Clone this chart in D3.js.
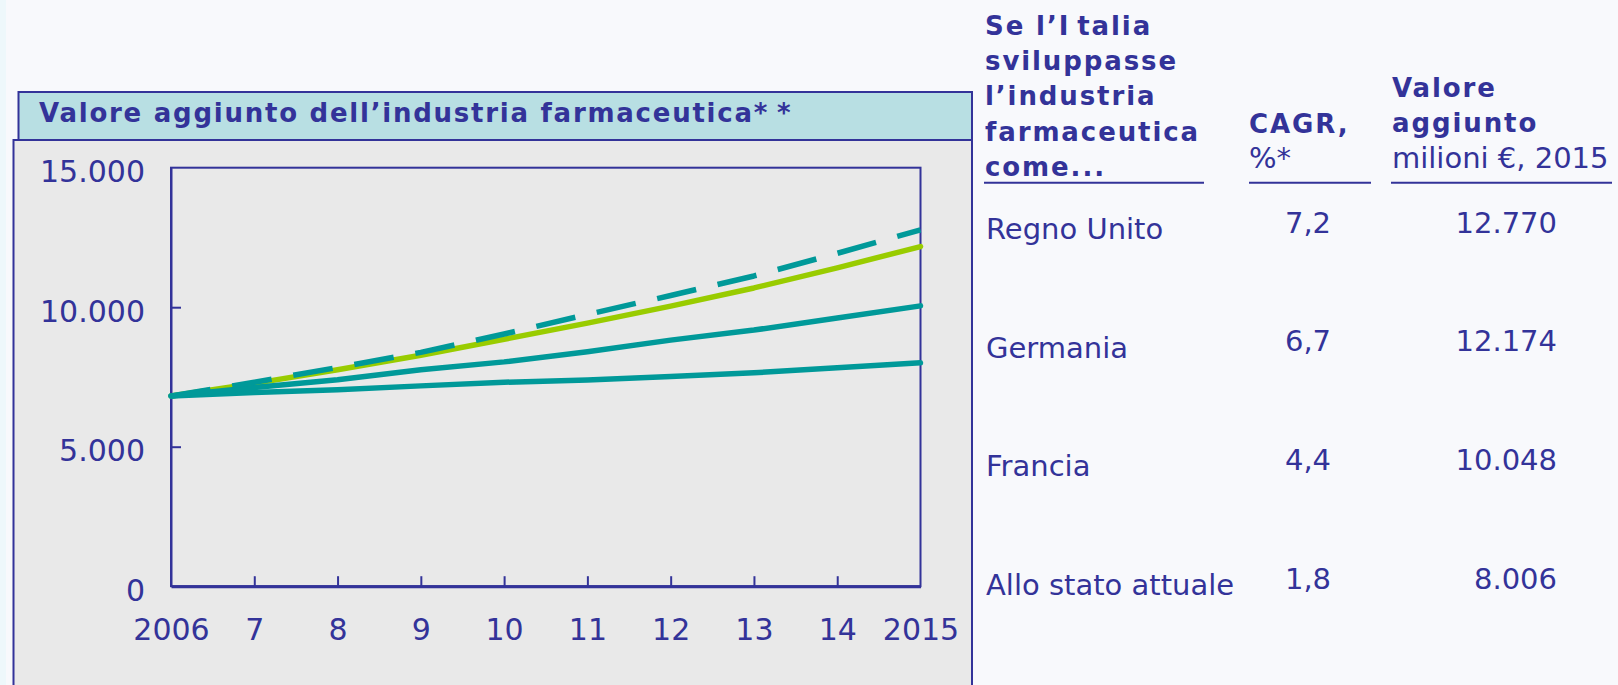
<!DOCTYPE html>
<html>
<head>
<meta charset="utf-8">
<script src="https://cdn.jsdelivr.net/npm/d3@7"></script>
<style>
    html, body { margin: 0; padding: 0; background: #f8f9fc; }
    svg { display: block; }
    text { font-family: "DejaVu Sans", Verdana, sans-serif; fill: #333399; }
    .bold { font-weight: bold; letter-spacing: 1.9px; }
</style>
</head>
<body>
<div id="chart"></div>
<script>
// Chart data
const years = [2006, 2007, 2008, 2009, 2010, 2011, 2012, 2013, 2014, 2015];
const xLabels = ["2006", "7", "8", "9", "10", "11", "12", "13", "14", "2015"];
const yTicks = [0, 5000, 10000, 15000];

const regnoUnito = [6820, 7310, 7840, 8380, 9040, 9740, 10420, 11120, 11930, 12770];
const germania   = [6820, 7270, 7760, 8280, 8850, 9430, 10040, 10690, 11410, 12174];
const francia    = [6820, 7120, 7400, 7760, 8040, 8400, 8820, 9180, 9610, 10048];
const attuale    = [6820, 6940, 7040, 7180, 7310, 7390, 7520, 7650, 7830, 8006];

// Table on the right
const rowLabels = ["Regno Unito", "Germania", "Francia", "Allo stato attuale"];
const cagr = [7.2, 6.7, 4.4, 1.8];
const valore2015 = [12770, 12174, 10048, 8006];

const chartTitle = "Valore aggiunto dell\u2019industria farmaceutica*";
const headCol1 = ["Se l\u2019I", "sviluppasse", "l\u2019industria", "farmaceutica", "come..."];

const W = 1618, H = 685;
const blue = "#333399", teal = "#009999", green = "#99cc00";

// Italian number formats
const it = d3.formatLocale({ decimal: ",", thousands: ".", grouping: [3], currency: ["", "\u20ac"] });
const fmtInt = it.format(",");
const fmtPct = it.format(".1f");

const svg = d3.select("#chart").append("svg")
    .attr("width", W)
    .attr("height", H);

// faint strip at the very left of the slide
svg.append("rect").attr("x", 0).attr("y", 0).attr("width", 6).attr("height", H).attr("fill", "#eef8fb");

// Grey panel and title box
svg.append("rect")
    .attr("x", 13.5).attr("y", 140)
    .attr("width", 958.5).attr("height", 560)
    .attr("fill", "#e9e9e9")
    .attr("stroke", blue).attr("stroke-width", 2);

svg.append("rect")
    .attr("x", 18.5).attr("y", 92)
    .attr("width", 953.5).attr("height", 48)
    .attr("fill", "#b8dfe3")
    .attr("stroke", blue).attr("stroke-width", 2);

// title; the second asterisk sits a little apart as in the slide
const title = svg.append("text")
    .attr("class", "bold")
    .attr("x", 39).attr("y", 121.5)
    .style("font-size", "26px")
    .style("letter-spacing", "1.75px")
    .text(chartTitle);
title.append("tspan").attr("dx", 8).text("*");

// Plot area
const plot = { left: 171, right: 920.5, top: 167.7, bottom: 586.2 };

const x = d3.scaleLinear()
    .domain([years[0], years[years.length - 1]])
    .range([plot.left, plot.right]);

const y = d3.scaleLinear()
    .domain([0, 15000])
    .range([plot.bottom, plot.top]);

// Frame
svg.append("rect")
    .attr("x", plot.left).attr("y", plot.top)
    .attr("width", plot.right - plot.left).attr("height", plot.bottom - plot.top)
    .attr("fill", "none")
    .attr("stroke", blue).attr("stroke-width", 2);

// Axes
const yAxis = svg.append("g")
    .attr("transform", `translate(${plot.left},0)`)
    .call(d3.axisLeft(y)
        .tickValues(yTicks)
        .tickFormat(fmtInt)
        .tickSizeInner(-10)
        .tickSizeOuter(0)
        .tickPadding(26));

const xAxis = svg.append("g")
    .attr("transform", `translate(0,${plot.bottom})`)
    .call(d3.axisBottom(x)
        .tickValues(years)
        .tickFormat((d, i) => xLabels[i])
        .tickSizeInner(-10)
        .tickSizeOuter(0)
        .tickPadding(33));

[yAxis, xAxis].forEach(ax => {
    ax.select(".domain").attr("stroke", blue).attr("stroke-width", 2);
    ax.selectAll(".tick line").attr("stroke", blue).attr("stroke-width", 2);
    ax.selectAll(".tick text")
        .attr("fill", blue)
        .style("font-family", "'DejaVu Sans', Verdana, sans-serif")
        .style("font-size", "30px");
});
yAxis.selectAll(".tick text").attr("dy", "0.47em");
xAxis.select(".domain").attr("stroke-width", 3);
// the end ticks coincide with the frame
yAxis.selectAll(".tick").filter(d => d === 0 || d === 15000).select("line").remove();
xAxis.selectAll(".tick").filter(d => d === years[0] || d === years[years.length - 1]).select("line").remove();

// Lines
const line = d3.line()
    .x((d, i) => x(years[i]))
    .y(d => y(d));

const series = [
    { values: germania, color: green, dash: null },
    { values: attuale, color: teal, dash: null },
    { values: francia, color: teal, dash: null },
    { values: regnoUnito, color: teal, dash: "40,22" }
];

svg.append("g").selectAll("path")
    .data(series)
    .enter()
    .append("path")
    .attr("d", d => line(d.values))
    .attr("fill", "none")
    .attr("stroke", d => d.color)
    .attr("stroke-width", 5.5)
    .attr("stroke-linecap", d => d.dash ? "butt" : "round")
    .attr("stroke-linejoin", "round")
    .attr("stroke-dasharray", d => d.dash);

// Table header
const col1 = 985, col2 = 1249, col3 = 1392;

const head = svg.append("g").selectAll("text")
    .data(headCol1)
    .enter()
    .append("text")
    .attr("class", "bold")
    .attr("x", col1)
    .attr("y", (d, i) => 35 + i * 35.2)
    .style("font-size", "26px")
    .text(d => d);
// "Italia": the slide shows a small gap after the capital I
head.filter((d, i) => i === 0).append("tspan").attr("dx", 7).text("talia");

svg.append("text").attr("class", "bold")
    .attr("x", col2).attr("y", 133.3)
    .style("font-size", "26px").text("CAGR,");
svg.append("text")
    .attr("x", col2).attr("y", 168)
    .style("font-size", "29px").text("%*");

svg.append("text").attr("class", "bold")
    .attr("x", col3).attr("y", 96.7)
    .style("font-size", "26px").text("Valore");
svg.append("text").attr("class", "bold")
    .attr("x", col3).attr("y", 131.7)
    .style("font-size", "26px").text("aggiunto");
svg.append("text")
    .attr("x", col3).attr("y", 168)
    .style("font-size", "29px").text("milioni \u20ac, 2015");

// Header underlines
[[984, 1204], [1249, 1371], [1391, 1612]].forEach(([a, b]) => {
    svg.append("line")
        .attr("x1", a).attr("x2", b)
        .attr("y1", 182.7).attr("y2", 182.7)
        .attr("stroke", blue).attr("stroke-width", 2);
});

// Table rows
const rowY = d3.scaleLinear().domain([0, 3]).range([239.3, 595]);

const rows = svg.append("g").selectAll("g")
    .data(rowLabels)
    .enter()
    .append("g")
    .attr("transform", (d, i) => `translate(0,${rowY(i)})`);

rows.append("text")
    .attr("x", col1 + 1)
    .style("font-size", "29px")
    .text(d => d);

rows.append("text")
    .attr("x", 1308)
    .attr("y", -6.5)
    .attr("text-anchor", "middle")
    .style("font-size", "29px")
    .text((d, i) => fmtPct(cagr[i]));

rows.append("text")
    .attr("x", 1557)
    .attr("y", -6.5)
    .attr("text-anchor", "end")
    .style("font-size", "29px")
    .text((d, i) => fmtInt(valore2015[i]));
</script>
</body>
</html>
